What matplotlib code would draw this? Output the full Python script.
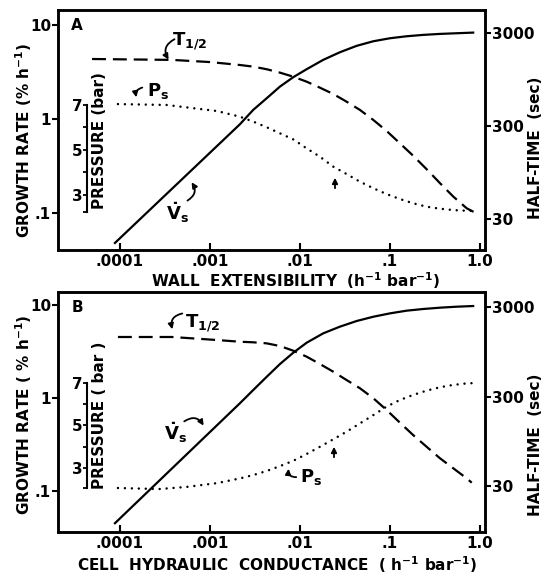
import matplotlib
matplotlib.use('Agg')
import matplotlib.pyplot as plt
from matplotlib.patches import FancyArrowPatch
from matplotlib.ticker import NullLocator, FixedLocator

plt.rcParams['font.family'] = ['DejaVu Sans']
plt.rcParams['font.weight'] = 'bold'
plt.rcParams['lines.scale_dashes'] = False
plt.rcParams['mathtext.default'] = 'bf'

# x positions (common grid in the middle part)
grid = [2.15e-3, 3.03e-3, 4.27e-3, 6.0e-3, 8.43e-3, 0.01187, 0.01668, 0.02344, 0.0330, 0.0464,
        0.0653, 0.0918, 0.129, 0.1816, 0.255, 0.36, 0.506, 0.711]

# ---- panel A : wall extensibility ----
vs_a_x = [8.8e-5, 2.15e-3, 3.03e-3, 4.27e-3, 6.0e-3, 8.43e-3, 0.01187, 0.01815, 0.0278, 0.0427,
          0.0653, 0.1, 0.153, 0.234, 0.36, 0.55, 0.84]
vs_a_y = [0.048, 0.877, 1.25, 1.66, 2.21, 2.78, 3.38, 4.25, 5.12, 5.99,
          6.70, 7.21, 7.57, 7.83, 8.02, 8.15, 8.28]
th_a_x = [4.9e-5, 3.8e-4, 1e-3] + grid + [0.88]
th_a_y = [1575, 1540, 1460, 1358, 1303, 1222, 1123, 1016, 898, 774, 662, 547, 446,
          348, 265, 195, 143, 103, 72.6, 52.1, 39.1, 35.1]
ps_a_x = [9.5e-5, 3.3e-4, 1.2e-3] + grid + [0.84]
ps_a_y = [7.04, 7.0, 6.73, 6.48, 6.26, 6.01, 5.74, 5.47, 5.07, 4.70, 4.26, 3.93, 3.59,
          3.30, 3.04, 2.82, 2.63, 2.48, 2.39, 2.33, 2.30, 2.30]

# ---- panel B : cell hydraulic conductance ----
vs_b_x = [8.8e-5, 2.15e-3, 3.03e-3, 4.27e-3, 6.0e-3, 8.43e-3, 0.01187, 0.01815, 0.0278, 0.0427,
          0.0653, 0.1, 0.153, 0.234, 0.36, 0.55, 0.84]
vs_b_y = [0.045, 0.877, 1.22, 1.69, 2.32, 3.07, 3.93, 4.96, 5.85, 6.73,
          7.48, 8.13, 8.69, 9.06, 9.36, 9.59, 9.75]
th_b_x = [9.5e-5, 3.8e-4, 1.2e-3] + grid + [0.81]
th_b_y = [1387, 1387, 1283, 1228, 1210, 1178, 1099, 975, 836, 692, 568, 458, 371,
          287, 212, 153, 111, 82.5, 61.2, 47.3, 36.6, 32.7]
ps_b_x = [9.5e-5, 2.7e-4, 5.5e-4, 1.2e-3] + grid + [0.91]
ps_b_y = [2.06, 2.01, 2.11, 2.29, 2.51, 2.67, 2.86, 3.09, 3.34, 3.66, 4.0, 4.35, 4.71,
          5.10, 5.49, 5.89, 6.20, 6.44, 6.64, 6.80, 6.91, 6.98, 7.0]

x_ticks = [1e-4, 1e-3, 1e-2, 1e-1, 1.0]
x_labels = ['.0001', '.001', '.01', '.1', '1.0']
g_ticks = [0.1, 1, 10]
g_labels = ['.1', '1', '10']
h_ticks = [30, 300, 3000]
h_labels = ['30', '300', '3000']
p_ticks = [3, 5, 7]

W, H = 544, 578
fig = plt.figure(figsize=(5.44, 5.78), dpi=100)


def fx(px):
    return px / W


def fy(py):
    return 1 - py / H


def panel(top, glim, hlim, plim, pbot, vx, vy, tx, ty, px_, py_):
    ax = fig.add_axes([fx(58), fy(top + 240), 427 / W, 240 / H])
    ax.set_xscale('log')
    ax.set_yscale('log')
    ax.set_xlim(2.05e-5, 1.137)
    ax.set_ylim(*glim)
    ax.plot(vx, vy, color='k', lw=1.6)
    ax.set_xticks(x_ticks)
    ax.set_xticklabels(x_labels)
    ax.set_yticks(g_ticks)
    ax.set_yticklabels(g_labels)
    ax.xaxis.set_minor_locator(NullLocator())
    ax.yaxis.set_minor_locator(NullLocator())
    ax.tick_params(axis='x', direction='in', length=5, width=1.5, labelsize=11, pad=3)
    ax.tick_params(axis='y', direction='out', length=4, width=1.5, labelsize=11, pad=1)
    for s in ax.spines.values():
        s.set_linewidth(1.8)

    ax2 = ax.twinx()
    ax2.set_yscale('log')
    ax2.set_ylim(*hlim)
    ax2.plot(tx, ty, color='k', lw=1.6, dashes=(10, 5))
    ax2.set_yticks(h_ticks)
    ax2.set_yticklabels(h_labels)
    ax2.yaxis.set_minor_locator(NullLocator())
    ax2.tick_params(axis='y', direction='out', length=4, width=1.5, labelsize=11, pad=1)
    for s in ax2.spines.values():
        s.set_linewidth(1.8)

    ax3 = ax.twinx()
    ax3.set_ylim(*plim)
    ax3.plot(px_, py_, color='k', lw=1.8, linestyle=(0, (0.01, 5)), dash_capstyle='round')
    for k in ['top', 'right', 'bottom']:
        ax3.spines[k].set_visible(False)
    ax3.spines['left'].set_position(('axes', (87 - 58) / 427))
    ax3.spines['left'].set_bounds(pbot, 7)
    ax3.spines['left'].set_linewidth(1.5)
    ax3.yaxis.tick_left()
    ax3.set_yticks(p_ticks)
    ax3.yaxis.set_minor_locator(FixedLocator([pbot, 4, 6]))
    ax3.tick_params(axis='y', which='both', direction='out', length=3, width=1.3, labelsize=11, pad=0)
    ax3.patch.set_visible(False)
    return ax


ax_a = panel(10, (0.0404, 14.4), (13.9, 5300), (0.556, 11.22), 2.24,
             vs_a_x, vs_a_y, th_a_x, th_a_y, ps_a_x, ps_a_y)
ax_b = panel(292, (0.0362, 13.8), (9.2, 4413), (-0.01, 11.28), 2.06,
             vs_b_x, vs_b_y, th_b_x, th_b_y, ps_b_x, ps_b_y)

lab = dict(fontsize=11, fontweight='bold', ha='center', va='center')
fig.text(fx(296), fy(281), 'WALL  EXTENSIBILITY  (h$^{-1}$ bar$^{-1}$)', **lab)
fig.text(fx(277), fy(565), 'CELL  HYDRAULIC  CONDUCTANCE  ( h$^{-1}$ bar$^{-1}$)', **lab)
fig.text(fx(24), fy(140), 'GROWTH RATE (% h$^{-1}$)', rotation=90, **lab)
fig.text(fx(24), fy(415), 'GROWTH RATE ( % h$^{-1}$)', rotation=90, **lab)
fig.text(fx(536), fy(148), 'HALF-TIME  (sec)', rotation=90, **lab)
fig.text(fx(536), fy(445), 'HALF-TIME  (sec)', rotation=90, **lab)
fig.text(fx(99), fy(141), 'PRESSURE (bar)', rotation=90, **lab)
fig.text(fx(99), fy(135 + 280), 'PRESSURE ( bar )', rotation=90, **lab)
fig.text(fx(77), fy(25), 'A', **lab)
fig.text(fx(77), fy(308), 'B', **lab)


def note(txt, tpos, start, end, rad):
    if txt:
        fig.text(fx(tpos[0]), fy(tpos[1]), txt, fontsize=13, fontweight='bold', ha='center', va='center')
    fig.add_artist(FancyArrowPatch(
        (fx(start[0]), fy(start[1])), (fx(end[0]), fy(end[1])), transform=fig.transFigure,
        arrowstyle='-|>', mutation_scale=8, lw=1.3, color='k',
        connectionstyle='arc3,rad=%s' % rad))


note('T$_{1/2}$', (190, 41), (177, 38), (170, 62), 0.6)
note('P$_s$', (158, 91), (145, 87), (137, 100), 0.6)
note(r'$\dot{V}_s$', (177, 213), (185, 202), (190, 180), 0.6)
note('', None, (335, 191), (335, 175), 0)
note('T$_{1/2}$', (203, 323), (185, 313), (173, 332), 0.6)
note(r'$\dot{V}_s$', (175, 433), (182, 423), (205, 428), -0.6)
note('P$_s$', (311, 477), (299, 477), (289, 466), -0.7)
note('', None, (334, 460), (334, 444), 0)

fig.savefig('out.png', dpi=100)
